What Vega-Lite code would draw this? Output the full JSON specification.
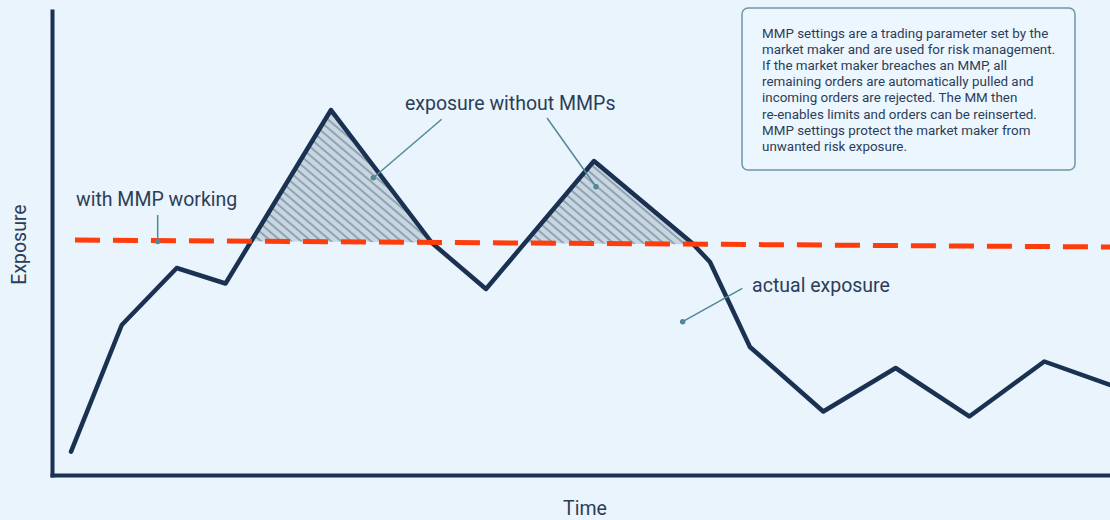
{
  "$schema": "https://vega.github.io/schema/vega-lite/v6.json",
  "width": 1058,
  "height": 464,
  "autosize": {"type": "none"},
  "padding": {"left": 52, "top": 11, "right": 0, "bottom": 45},
  "background": "#e9f4fd",
  "config": {
    "view": {"stroke": null},
    "font": "Roboto",
    "axis": {"domainColor": "#1b3152", "domainWidth": 4, "domainCap": "square", "ticks": false, "labels": false, "grid": false,
             "titleFont": "Roboto", "titleFontSize": 19.5, "titleFontWeight": "normal", "titleColor": "#2c3d58"},
    "axisX": {"titleX": 532.5, "titleY": 39.5, "titleAlign": "center", "titleBaseline": "alphabetic"},
    "axisY": {"titleX": -26.5, "titleY": 233, "titleAlign": "center", "titleBaseline": "alphabetic", "titleAngle": -90}
  },
  "datasets": {
    "exposure": [
      {"t": 1.80, "e": 5.02},
      {"t": 6.59, "e": 32.33},
      {"t": 11.79, "e": 44.61},
      {"t": 16.40, "e": 41.27},
      {"t": 26.37, "e": 78.66},
      {"t": 35.92, "e": 50.0},
      {"t": 41.02, "e": 40.09},
      {"t": 51.23, "e": 67.67},
      {"t": 60.49, "e": 50.0},
      {"t": 62.19, "e": 45.91},
      {"t": 65.97, "e": 27.59},
      {"t": 72.90, "e": 13.69},
      {"t": 79.74, "e": 23.06},
      {"t": 86.70, "e": 12.61},
      {"t": 93.79, "e": 24.46},
      {"t": 100.0, "e": 19.40}
    ],
    "mmp": [
      {"t": 2.17, "e": 50.65},
      {"t": 100.0, "e": 49.14}
    ],
    "hatch": [
      {"t": 2.17, "t2": 18.85},
      {"t": 3.12, "t2": 19.80},
      {"t": 4.06, "t2": 20.74},
      {"t": 5.01, "t2": 21.69},
      {"t": 5.95, "t2": 22.63},
      {"t": 6.90, "t2": 23.58},
      {"t": 7.85, "t2": 24.53},
      {"t": 8.79, "t2": 25.47},
      {"t": 9.74, "t2": 26.42},
      {"t": 10.68, "t2": 27.36},
      {"t": 11.63, "t2": 28.31},
      {"t": 12.57, "t2": 29.25},
      {"t": 13.52, "t2": 30.20},
      {"t": 14.46, "t2": 31.14},
      {"t": 15.41, "t2": 32.09},
      {"t": 16.35, "t2": 33.03},
      {"t": 17.30, "t2": 33.98},
      {"t": 18.24, "t2": 34.92},
      {"t": 19.19, "t2": 35.87},
      {"t": 20.13, "t2": 36.81},
      {"t": 21.08, "t2": 37.76},
      {"t": 22.02, "t2": 38.70},
      {"t": 22.97, "t2": 39.65},
      {"t": 23.91, "t2": 40.59},
      {"t": 24.86, "t2": 41.54},
      {"t": 25.80, "t2": 42.48},
      {"t": 26.75, "t2": 43.43},
      {"t": 27.70, "t2": 44.38},
      {"t": 28.64, "t2": 45.32},
      {"t": 29.59, "t2": 46.27},
      {"t": 30.53, "t2": 47.21},
      {"t": 31.48, "t2": 48.16},
      {"t": 32.42, "t2": 49.10},
      {"t": 33.37, "t2": 50.05},
      {"t": 34.31, "t2": 50.99},
      {"t": 35.26, "t2": 51.94},
      {"t": 36.20, "t2": 52.88},
      {"t": 37.15, "t2": 53.83},
      {"t": 38.09, "t2": 54.77},
      {"t": 39.04, "t2": 55.72},
      {"t": 39.98, "t2": 56.66},
      {"t": 40.93, "t2": 57.61},
      {"t": 41.88, "t2": 58.56},
      {"t": 42.82, "t2": 59.50},
      {"t": 43.77, "t2": 60.45},
      {"t": 44.71, "t2": 61.39},
      {"t": 45.66, "t2": 62.34}
    ],
    "leaders": [
      {"t": 9.99, "e": 56.03, "t2": 9.99, "e2": 50.32},
      {"t": 36.83, "e": 76.66, "t2": 30.37, "e2": 64.07},
      {"t": 46.79, "e": 76.94, "t2": 51.42, "e2": 62.13},
      {"t": 65.25, "e": 40.24, "t2": 59.61, "e2": 33.04}
    ],
    "labels": [
      {"t": 2.27, "e": 57.97, "label": "with MMP working"},
      {"t": 33.36, "e": 78.66, "label": "exposure without MMPs"},
      {"t": 66.17, "e": 39.37, "label": "actual exposure"}
    ],
    "note": [
      {"t": 65.22, "t2": 96.69, "e": 100.65, "e2": 65.73, "tx": 67.11, "ey": 96.55,
       "text": "MMP settings are a trading parameter set by the\nmarket maker and are used for risk management.\nIf the market maker breaches an MMP, all\nremaining orders are automatically pulled and\nincoming orders are rejected. The MM then\nre-enables limits and orders can be reinserted.\nMMP settings protect the market maker from\nunwanted risk exposure."}
    ]
  },
  "layer": [
    {
      "data": {"values": [{"t": 17.77, "t2": 61.25, "e": 79.74, "e2": 48.49}]},
      "mark": {"type": "rect", "fill": "#c9d6e0"},
      "encoding": {
        "x": {"field": "t", "type": "quantitative", "scale": {"domain": [0, 100]}, "title": "Time"},
        "x2": {"field": "t2"},
        "y": {"field": "e", "type": "quantitative", "scale": {"domain": [0, 100]}, "title": "Exposure"},
        "y2": {"field": "e2"}
      }
    },
    {
      "data": {"name": "hatch"},
      "mark": {"type": "rule", "color": "#8ea4b5", "strokeWidth": 2},
      "encoding": {
        "x": {"field": "t", "type": "quantitative", "title": "Time"},
        "x2": {"field": "t2"},
        "y": {"datum": 80.8, "type": "quantitative", "title": "Exposure"},
        "y2": {"datum": 48.5}
      }
    },
    {
      "data": {"name": "exposure"},
      "mark": {"type": "area", "fill": "#e9f4fd"},
      "encoding": {
        "x": {"field": "t", "type": "quantitative", "title": "Time"},
        "y": {"field": "e", "type": "quantitative", "title": "Exposure"},
        "y2": {"datum": 85}
      }
    },
    {
      "data": {"name": "mmp"},
      "mark": {"type": "area", "fill": "#e9f4fd"},
      "encoding": {
        "x": {"field": "t", "type": "quantitative", "title": "Time"},
        "y": {"field": "e", "type": "quantitative", "title": "Exposure"},
        "y2": {"datum": 40}
      }
    },
    {
      "data": {"name": "exposure"},
      "mark": {"type": "line", "color": "#1b3152", "strokeWidth": 4.5, "strokeJoin": "round", "strokeCap": "round"},
      "encoding": {
        "x": {"field": "t", "type": "quantitative", "title": "Time"},
        "y": {"field": "e", "type": "quantitative", "title": "Exposure"}
      }
    },
    {
      "data": {"name": "mmp"},
      "mark": {"type": "line", "color": "#ff3c0c", "strokeWidth": 5, "strokeDash": [25, 13]},
      "encoding": {
        "x": {"field": "t", "type": "quantitative", "title": "Time"},
        "y": {"field": "e", "type": "quantitative", "title": "Exposure"}
      }
    },
    {
      "data": {"name": "leaders"},
      "mark": {"type": "rule", "color": "#51899a", "strokeWidth": 1.5},
      "encoding": {
        "x": {"field": "t", "type": "quantitative", "title": "Time"},
        "x2": {"field": "t2"},
        "y": {"field": "e", "type": "quantitative", "title": "Exposure"},
        "y2": {"field": "e2"}
      }
    },
    {
      "data": {"name": "leaders"},
      "mark": {"type": "point", "filled": true, "color": "#51899a", "size": 30, "opacity": 1},
      "encoding": {
        "x": {"field": "t2", "type": "quantitative", "title": "Time"},
        "y": {"field": "e2", "type": "quantitative", "title": "Exposure"}
      }
    },
    {
      "data": {"name": "labels"},
      "mark": {"type": "text", "align": "left", "baseline": "alphabetic", "font": "Roboto", "fontSize": 19.5, "color": "#2c3d58"},
      "encoding": {
        "x": {"field": "t", "type": "quantitative", "title": "Time"},
        "y": {"field": "e", "type": "quantitative", "title": "Exposure"},
        "text": {"field": "label"}
      }
    },
    {
      "data": {"name": "note"},
      "mark": {"type": "rect", "fill": "#ecf6fe", "stroke": "#6f97a7", "strokeWidth": 1.5, "cornerRadius": 6},
      "encoding": {
        "x": {"field": "t", "type": "quantitative", "title": "Time"},
        "x2": {"field": "t2"},
        "y": {"field": "e", "type": "quantitative", "title": "Exposure"},
        "y2": {"field": "e2"}
      }
    },
    {
      "data": {"name": "note"},
      "mark": {"type": "text", "align": "left", "baseline": "top", "font": "Roboto", "fontSize": 13.4, "lineHeight": 16.1, "lineBreak": "\n", "color": "#2c3d58"},
      "encoding": {
        "x": {"field": "tx", "type": "quantitative", "title": "Time"},
        "y": {"field": "ey", "type": "quantitative", "title": "Exposure"},
        "text": {"field": "text"}
      }
    }
  ]
}
